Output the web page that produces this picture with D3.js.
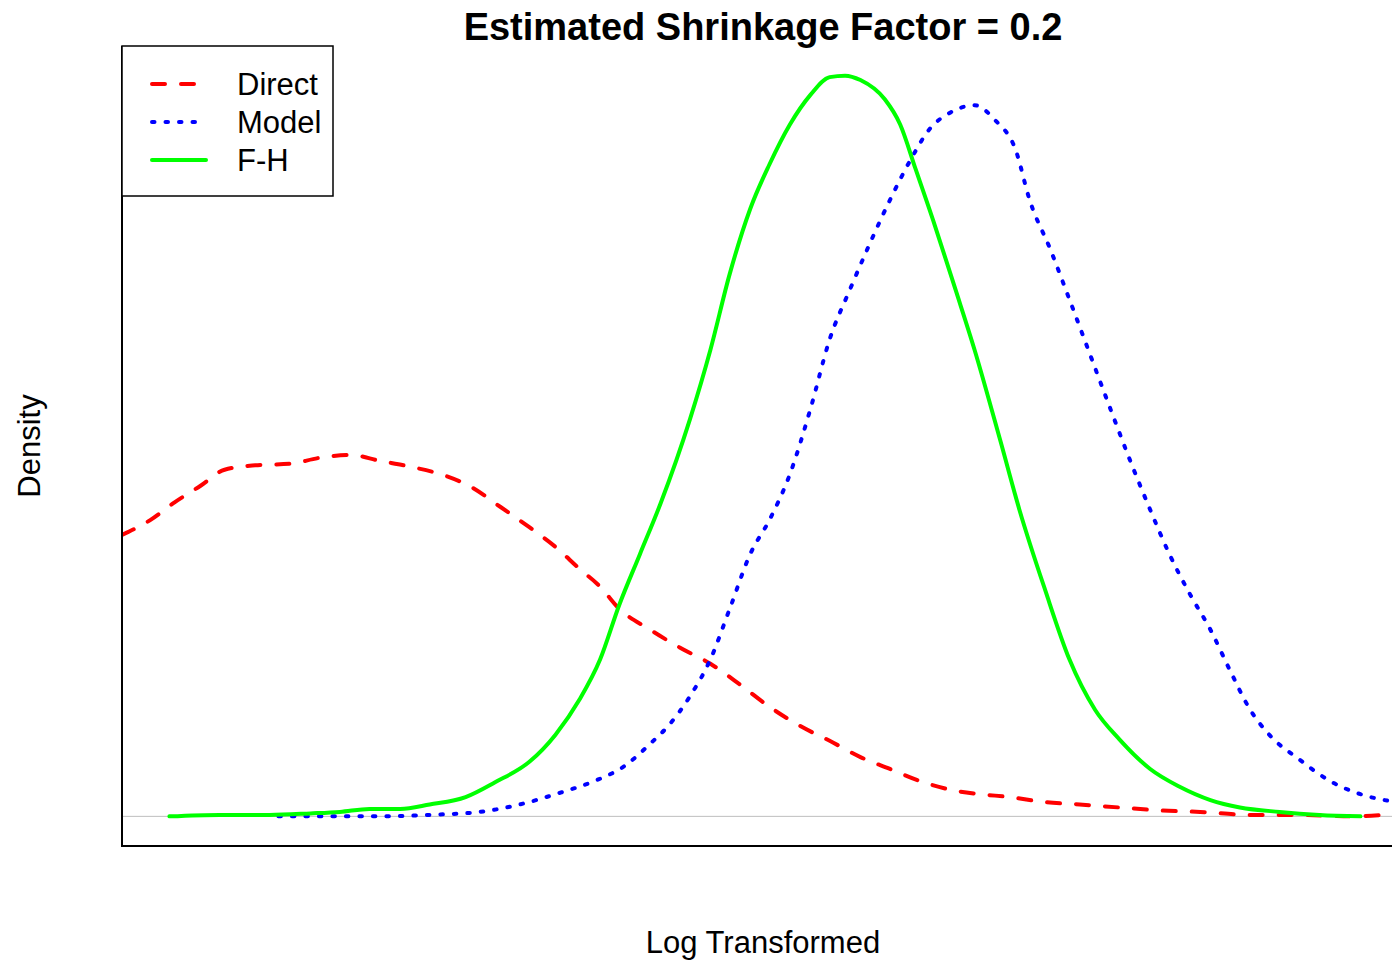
<!DOCTYPE html>
<html>
<head>
<meta charset="utf-8">
<script src="https://cdn.jsdelivr.net/npm/d3@7"></script>
<style>
  body { margin: 0; background: #fff; }
  svg { display: block; font-family: "Liberation Sans", Arial, sans-serif; }
</style>
</head>
<body>
<div id="chart"></div>
<script>
// Density curves (x = log transformed value, y = density)
const directX = [0, 0.22, 0.41, 0.61, 0.80, 1.04, 1.31, 1.54, 1.78, 2.01, 2.25, 2.52, 2.71, 2.95, 3.18, 3.38, 3.57, 3.73, 3.88, 4.12, 4.35, 4.59, 4.82, 5.05, 5.29, 5.52, 5.76, 5.99, 6.22, 6.46, 6.69, 6.93, 7.16, 7.47, 7.78, 8.10, 8.41, 8.80, 9.19, 9.58, 9.91, 10.0];
const directY = [0.190, 0.200, 0.212, 0.223, 0.234, 0.237, 0.238, 0.242, 0.244, 0.240, 0.236, 0.230, 0.223, 0.209, 0.195, 0.182, 0.167, 0.155, 0.140, 0.126, 0.114, 0.103, 0.089, 0.074, 0.061, 0.051, 0.040, 0.032, 0.024, 0.018, 0.015, 0.013, 0.010, 0.008, 0.006, 0.004, 0.003, 0.001, 0.001, 0.000, 0.001, 0.000];

const modelX = [1.22, 1.62, 2.01, 2.40, 2.79, 3.10, 3.42, 3.69, 3.92, 4.12, 4.27, 4.43, 4.59, 4.74, 4.90, 5.05, 5.21, 5.37, 5.52, 5.68, 5.83, 5.99, 6.15, 6.30, 6.46, 6.65, 6.81, 6.97, 7.08, 7.24, 7.39, 7.55, 7.71, 7.86, 8.02, 8.17, 8.33, 8.49, 8.64, 8.80, 8.95, 9.19, 9.42, 9.66, 9.91];
const modelY = [0, 0, 0, 0.001, 0.003, 0.008, 0.016, 0.024, 0.034, 0.049, 0.062, 0.081, 0.106, 0.140, 0.177, 0.200, 0.231, 0.275, 0.322, 0.356, 0.386, 0.416, 0.443, 0.464, 0.475, 0.480, 0.470, 0.450, 0.416, 0.383, 0.349, 0.312, 0.275, 0.241, 0.207, 0.177, 0.150, 0.126, 0.099, 0.072, 0.055, 0.038, 0.024, 0.015, 0.010];

const fhX = [0.37, 0.76, 1.15, 1.47, 1.70, 1.93, 2.17, 2.40, 2.68, 2.91, 3.18, 3.38, 3.57, 3.73, 3.88, 4.04, 4.20, 4.43, 4.59, 4.74, 4.90, 5.05, 5.21, 5.37, 5.52, 5.64, 5.76, 5.95, 6.07, 6.19, 6.34, 6.50, 6.65, 6.85, 7.00, 7.20, 7.39, 7.59, 7.78, 8.02, 8.25, 8.49, 8.72, 9.03, 9.34, 9.66];
const fhY = [0, 0.001, 0.001, 0.002, 0.003, 0.005, 0.005, 0.008, 0.013, 0.023, 0.037, 0.055, 0.079, 0.106, 0.143, 0.177, 0.211, 0.268, 0.315, 0.366, 0.410, 0.440, 0.467, 0.487, 0.499, 0.500, 0.497, 0.484, 0.467, 0.437, 0.399, 0.356, 0.315, 0.254, 0.207, 0.153, 0.106, 0.072, 0.052, 0.032, 0.020, 0.011, 0.006, 0.003, 0.001, 0];

const legendLabels = ['Direct', 'Model', 'F-H'];

const W = 1392, H = 960;
const margin = { left: 122, right: 1404, top: 46, bottom: 846 };

const svg = d3.select('#chart').append('svg')
  .attr('width', W)
  .attr('height', H);

const x = d3.scaleLinear().domain([0, 10]).range([margin.left, margin.right]);
const y = d3.scaleLinear().domain([-0.02, 0.52]).range([margin.bottom, margin.top]);

svg.append('defs').append('clipPath').attr('id', 'plot-clip')
  .append('rect')
  .attr('x', margin.left).attr('y', margin.top)
  .attr('width', margin.right - margin.left).attr('height', margin.bottom - margin.top);

// zero line
svg.append('line')
  .attr('x1', margin.left).attr('x2', W)
  .attr('y1', y(0)).attr('y2', y(0))
  .attr('stroke', '#bebebe').attr('stroke-width', 1);

const series = [
  { label: 'Direct', xs: directX, ys: directY, color: '#ff0000', dash: '13,16' },
  { label: 'Model', xs: modelX, ys: modelY, color: '#0000ff', dash: '2.5,11' },
  { label: 'F-H', xs: fhX, ys: fhY, color: '#00ff00', dash: null }
];

const line = d3.line()
  .x(d => x(d[0]))
  .y(d => y(d[1]))
  .curve(d3.curveMonotoneX);

const plot = svg.append('g').attr('clip-path', 'url(#plot-clip)');
series.forEach(s => {
  plot.append('path')
    .datum(d3.zip(s.xs, s.ys))
    .attr('d', line)
    .attr('fill', 'none')
    .attr('stroke', s.color)
    .attr('stroke-width', 4)
    .attr('stroke-linecap', 'round')
    .attr('stroke-linejoin', 'round')
    .attr('stroke-dasharray', s.dash);
});

// L-shaped axes
svg.append('path')
  .attr('d', `M${margin.left},${margin.top}V${margin.bottom}H${W}`)
  .attr('fill', 'none')
  .attr('stroke', '#000')
  .attr('stroke-width', 2);

// Title and axis labels
svg.append('text')
  .text('Estimated Shrinkage Factor = 0.2')
  .attr('x', 763).attr('y', 40)
  .attr('text-anchor', 'middle')
  .attr('font-size', '38px')
  .attr('font-weight', 'bold');

svg.append('text')
  .text('Log Transformed')
  .attr('x', 763).attr('y', 953)
  .attr('text-anchor', 'middle')
  .attr('font-size', '31px');

svg.append('text')
  .text('Density')
  .attr('transform', 'translate(40,446) rotate(-90)')
  .attr('text-anchor', 'middle')
  .attr('font-size', '31px');

// Legend
const legend = svg.append('g');
legend.append('rect')
  .attr('x', 122).attr('y', 46)
  .attr('width', 211).attr('height', 150)
  .attr('fill', '#fff')
  .attr('stroke', '#000')
  .attr('stroke-width', 1.5);

const rowY = d3.scalePoint().domain(legendLabels).range([84, 160]);
series.forEach(s => {
  legend.append('line')
    .attr('x1', 152).attr('x2', 206)
    .attr('y1', rowY(s.label)).attr('y2', rowY(s.label))
    .attr('stroke', s.color)
    .attr('stroke-width', 4)
    .attr('stroke-linecap', 'round')
    .attr('stroke-dasharray', s.dash);
  legend.append('text')
    .text(s.label)
    .attr('x', 237).attr('y', rowY(s.label) + 11)
    .attr('font-size', '31px');
});
</script>
</body>
</html>
